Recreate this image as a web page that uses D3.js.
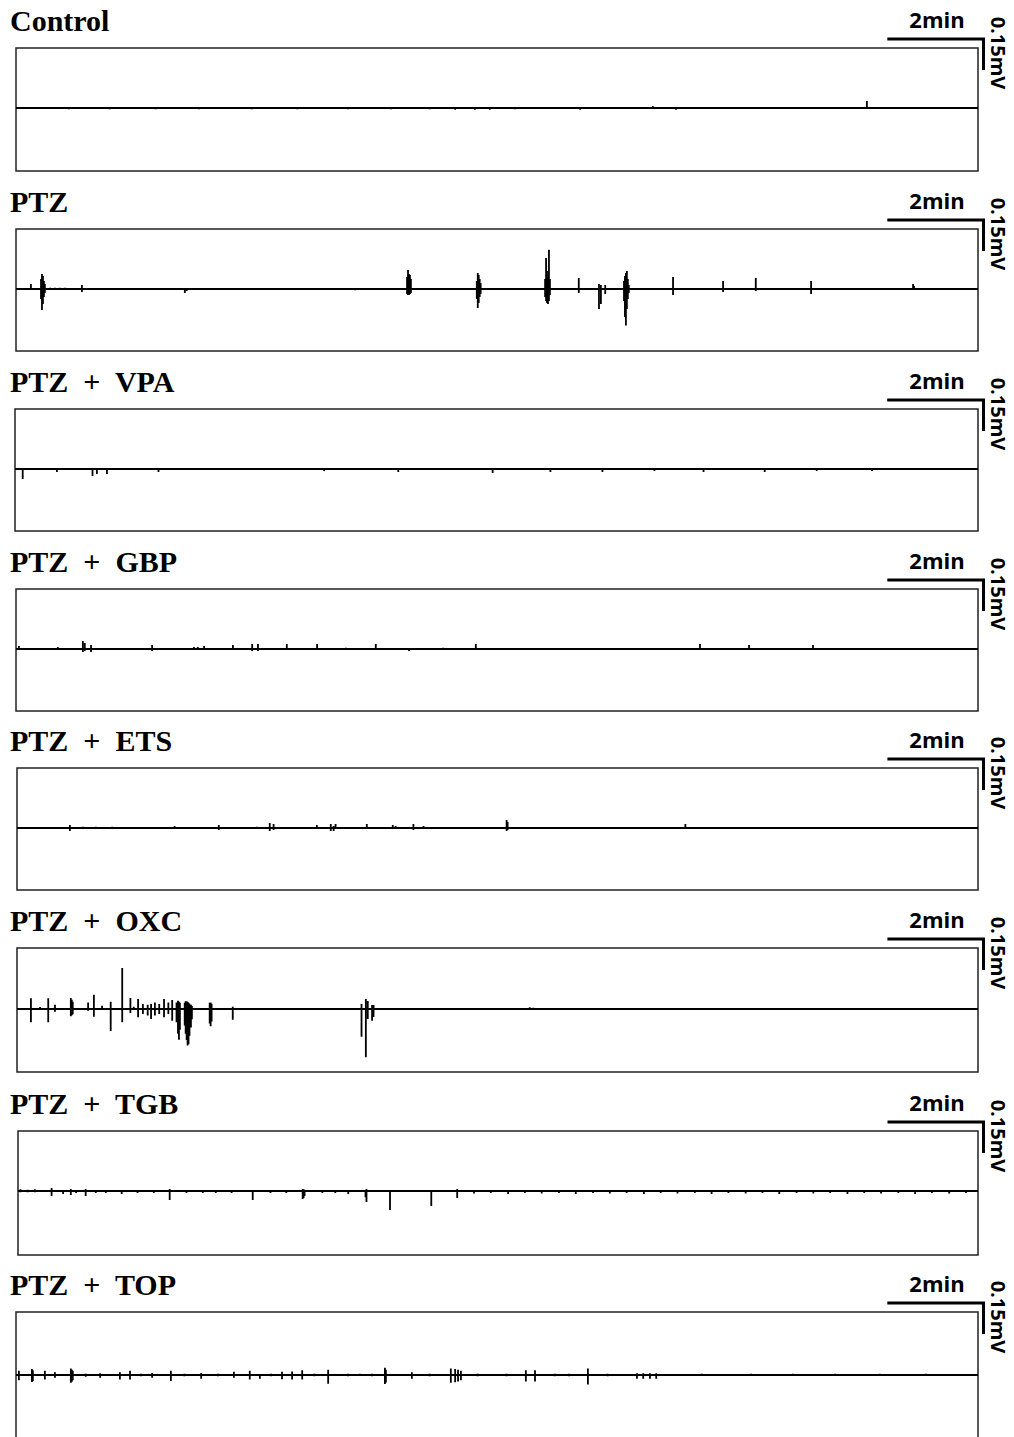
<!DOCTYPE html>
<html>
<head>
<meta charset="utf-8">
<script src="https://cdn.jsdelivr.net/npm/d3@7"></script>
<style>
  html, body { margin: 0; padding: 0; background: #fff; }
  svg { display: block; }
  .title { font-family: "Liberation Serif", "Times New Roman", serif; font-weight: bold; font-size: 30px; white-space: pre; }
  .scale { font-family: "Open Sans", "DejaVu Sans", sans-serif; font-weight: bold; font-size: 22px; }
  .scalev { font-family: "Open Sans", "DejaVu Sans", sans-serif; font-weight: bold; font-size: 20px; }
</style>
</head>
<body>
<script>
// ---------------- DATA ----------------
// Group titles
const titles = ["Control", "PTZ", "PTZ  +  VPA", "PTZ  +  GBP", "PTZ  +  ETS", "PTZ  +  OXC", "PTZ  +  TGB", "PTZ  +  TOP"];

// Recording length (min) and scale-bar values
const recordMinutes = 20;
const scaleBarMinutes = 2;
const scaleBarMV = 0.15;
const scaleTimeLabel = "2min";
const scaleVoltLabel = "0.15mV";

// Spike events: [time (min), upward amplitude (mV), downward amplitude (mV)]
const controlSpikes = [
  [1.10,0,0.006],[1.95,0,0.006],[2.90,0,0.006],[3.80,0,0.006],[4.90,0,0.006],[5.85,0,0.006],
  [6.90,0,0.006],[7.80,0,0.006],[8.60,0,0.006],[9.13,0,0.008],[9.54,0,0.008],[9.85,0,0.008],
  [10.37,0,0.006],[11.73,0,0.008],[13.24,0.010,0],[13.72,0,0.008],[17.69,0.034,0]
];

const ptzSpikes = [
  [0.31,0.024,0.005],
  [0.52,0.048,0.048],[0.54,0.073,0.102],[0.56,0.063,0.073],[0.58,0.039,0.039],[0.60,0.024,0.019],
  [0.71,0.006,0],[0.81,0.006,0],[0.91,0.006,0],[1.02,0.006,0],
  [1.37,0.019,0.015],
  [3.51,0,0.019],[3.55,0,0.010],
  [4.72,0.005,0],[7.05,0,0.006],
  [8.13,0.058,0.024],[8.15,0.092,0.029],[8.17,0.073,0.029],[8.19,0.068,0.024],[8.21,0.048,0.019],
  [9.58,0.039,0.048],[9.60,0.077,0.092],[9.62,0.068,0.068],[9.64,0.048,0.039],[9.66,0.029,0.024],
  [11.00,0.048,0.039],[11.02,0.150,0.058],[11.04,0.087,0.068],[11.06,0.058,0.073],[11.08,0.190,0.058],[11.10,0.048,0.029],
  [11.56,0.005,0],[11.70,0.053,0.019],
  [12.12,0.024,0.097],[12.16,0.019,0.073],[12.25,0.019,0.024],
  [12.64,0.039,0.058],[12.66,0.063,0.136],[12.68,0.077,0.176],[12.70,0.087,0.097],[12.72,0.048,0.048],[12.74,0.019,0.019],
  [13.66,0.058,0.029],[14.10,0.005,0],[14.70,0.039,0.015],[15.38,0.053,0.010],[16.53,0.039,0.024],
  [17.86,0.005,0],[18.65,0.024,0.005],[18.67,0.015,0]
];

const vpaSpikes = [
  [0.16,0,0.048],[0.87,0,0.015],[1.61,0,0.034],[1.70,0,0.024],[1.91,0,0.024],[2.30,0.005,0],
  [2.98,0,0.015],[4.00,0.005,0],[5.20,0.005,0],[6.42,0,0.010],[7.96,0,0.015],[8.60,0.005,0],
  [9.92,0,0.019],[10.50,0.005,0],[11.12,0,0.015],[12.20,0,0.015],[12.80,0.005,0],[13.28,0,0.010],
  [14.30,0,0.015],[15.00,0.005,0],[15.57,0,0.015],[16.65,0,0.010],[17.20,0.005,0],[17.80,0,0.010],[18.80,0.005,0]
];

const gbpSpikes = [
  [0.06,0.015,0],[0.87,0.010,0],[1.39,0.039,0.015],[1.43,0.029,0.010],[1.56,0.019,0.015],
  [2.83,0.019,0.010],[3.70,0.010,0],[3.78,0.010,0],[3.91,0.015,0.005],[4.51,0.019,0],
  [4.91,0.024,0.010],[5.03,0.024,0.010],[5.63,0.024,0],[6.26,0.024,0],[6.86,0.006,0],
  [7.48,0.024,0],[8.17,0,0.010],[8.30,0.005,0],[8.88,0.006,0],[9.56,0.024,0],
  [14.22,0.024,0],[15.24,0.019,0],[16.57,0.019,0]
];

const etsSpikes = [
  [1.10,0.015,0.015],[1.37,0.006,0],[1.64,0.006,0],[1.98,0.006,0],[3.28,0.010,0],
  [4.20,0.015,0.010],[4.99,0.006,0],[5.26,0.024,0.015],[5.34,0.019,0.010],[6.24,0.015,0],
  [6.53,0.019,0.015],[6.59,0.010,0.015],[6.63,0.019,0],[7.28,0.019,0.005],[7.82,0.015,0],
  [7.88,0.010,0.005],[8.25,0.019,0.010],[8.46,0.010,0],[10.19,0.039,0.015],[10.21,0.029,0.010],
  [10.29,0.005,0],[10.40,0.005,0],[13.91,0.019,0],[16.65,0.005,0]
];

const oxcSpikes = [
  [0.29,0.052,0.064],[0.48,0.010,0],[0.65,0.052,0.064],[0.79,0.021,0.013],[0.98,0.005,0],
  [1.12,0.053,0.035],[1.14,0.045,0.030],[1.16,0.035,0.025],[1.37,0.005,0],
  [1.48,0.032,0.008],[1.60,0.069,0.037],[1.77,0.016,0.005],[1.95,0.035,0.106],
  [2.19,0.198,0.064],[2.36,0.053,0.019],[2.43,0.011,0],[2.52,0.048,0.040],[2.62,0.024,0.024],
  [2.72,0.021,0.032],[2.79,0.024,0.048],[2.87,0.032,0.032],[2.96,0.024,0.024],[3.06,0.048,0.040],
  [3.15,0.032,0.024],[3.23,0.044,0.057],[3.32,0.032,0.064],
  [3.35,0.040,0.120],[3.37,0.035,0.149],[3.39,0.030,0.100],
  [3.49,0.030,0.080],[3.51,0.037,0.120],[3.53,0.037,0.150],[3.55,0.034,0.176],[3.57,0.030,0.170],
  [3.59,0.025,0.130],[3.62,0.020,0.090],[3.64,0.015,0.050],
  [4.01,0.030,0.070],[4.03,0.032,0.084],[4.05,0.025,0.060],[4.49,0.011,0.052],
  [5.22,0.005,0],[5.90,0.005,0],
  [7.17,0.024,0.134],[7.26,0.048,0.234],[7.30,0.039,0.048],[7.39,0.019,0.057],[7.42,0.019,0.039],
  [7.58,0.005,0],[10.67,0.008,0],[10.75,0.006,0]
];

const tgbSpikes = [
  [0.05,0.008,0.006],[0.20,0.006,0.006],[0.35,0.008,0.006],
  [0.70,0.015,0.024],[0.94,0,0.015],[1.10,0.010,0.019],[1.21,0,0.010],[1.41,0.010,0.024],
  [1.62,0,0.010],[1.83,0,0.010],[2.16,0,0.015],[2.49,0,0.010],[2.83,0,0.010],
  [3.16,0.010,0.044],[3.51,0,0.010],[3.85,0,0.010],[4.12,0,0.010],[4.45,0,0.010],
  [4.89,0,0.044],[5.26,0,0.010],[5.59,0,0.010],
  [5.93,0.010,0.039],[5.95,0.008,0.034],[5.97,0.005,0.024],
  [6.34,0,0.010],[6.61,0,0.010],[6.88,0,0.015],[7.24,0,0.030],[7.26,0.010,0.053],
  [7.75,0,0.092],[8.61,0,0.073],[9.15,0.010,0.034],
  [9.50,0,0.012],[9.85,0,0.010],[10.21,0,0.014],[10.56,0,0.010],[10.91,0,0.012],[11.27,0,0.010],
  [11.62,0,0.014],[11.98,0,0.010],[12.33,0,0.012],[12.68,0,0.010],[13.04,0,0.014],[13.39,0,0.010],
  [13.74,0,0.012],[14.10,0,0.010],[14.45,0,0.014],[14.80,0,0.010],[15.16,0,0.012],[15.51,0,0.010],
  [15.86,0,0.014],[16.22,0,0.010],[16.57,0,0.012],[16.92,0,0.010],[17.28,0,0.014],[17.63,0,0.010],
  [17.98,0,0.012],[18.34,0,0.010],[18.69,0,0.014],[19.04,0,0.010],[19.40,0,0.012],[19.75,0,0.010]
];

const topSpikes = [
  [0.06,0.020,0.025],[0.33,0.029,0.034],[0.35,0.023,0.029],[0.60,0.020,0.022],[0.81,0.013,0.013],
  [1.14,0.031,0.038],[1.16,0.026,0.033],[1.18,0.020,0.026],[1.45,0.006,0.008],[1.75,0.008,0.013],
  [2.16,0.013,0.022],[2.37,0.020,0.022],[2.60,0.006,0.006],[2.83,0.010,0.013],[3.22,0.020,0.029],
  [3.50,0.006,0.006],[3.85,0.010,0.018],[4.20,0.006,0.006],[4.53,0.016,0.013],[4.86,0.020,0.022],
  [5.07,0,0.018],[5.30,0.006,0.006],[5.53,0.016,0.021],[5.74,0.017,0.022],[5.95,0.023,0.022],
  [6.20,0.006,0.006],[6.49,0.025,0.042],[6.90,0.006,0.006],[7.15,0.006,0],[7.40,0.006,0.006],
  [7.67,0.035,0.044],[7.69,0.026,0.036],[8.23,0.013,0.018],[8.60,0.006,0.006],
  [9.04,0.031,0.038],[9.13,0.029,0.035],[9.19,0.026,0.031],[9.25,0.020,0.026],[9.60,0.006,0.006],
  [10.20,0.006,0.006],[10.60,0.023,0.031],[10.79,0.023,0.031],[11.20,0.006,0.006],[11.50,0.006,0.006],
  [11.89,0.031,0.046],[12.30,0.006,0.006],[12.91,0.008,0.018],[13.04,0.008,0.018],[13.18,0.008,0.018],
  [13.31,0.008,0.018],[14.26,0.006,0],[15.28,0.006,0],[16.15,0.006,0],[17.03,0.006,0],[17.96,0.006,0],[18.92,0.006,0]
];

const traces = [controlSpikes, ptzSpikes, vpaSpikes, gbpSpikes, etsSpikes, oxcSpikes, tgbSpikes, topSpikes];

// ---------------- LAYOUT (positions / sizes) ----------------
const W = 1014, H = 1437;
const boxTop    = [48, 229, 409, 589, 768, 948, 1131, 1312];
const boxHeight = [123, 122, 122, 122, 122, 124, 124, 128];
const baseOff   = [60, 60, 60, 60, 60, 61, 60, 63];
const boxLeft   = [16, 16, 15, 16, 17, 17, 18, 16];
const boxRight  = 978;
const pxPerMV   = 206.7;
const scaleBarRight = 983.5;

const svg = d3.select("body").append("svg")
  .attr("width", W).attr("height", H)
  .attr("viewBox", `0 0 ${W} ${H}`);
svg.append("rect").attr("width", W).attr("height", H).attr("fill", "#fff");

titles.forEach((title, i) => {
  const g = svg.append("g");
  const top = boxTop[i];
  const base = top + baseOff[i];
  const x = d3.scaleLinear().domain([0, recordMinutes]).range([boxLeft[i], boxRight]);
  const y = d3.scaleLinear().domain([-1, 1]).range([base + pxPerMV, base - pxPerMV]);

  // title
  g.append("text").attr("class", "title")
    .attr("x", 10).attr("y", top - 17)
    .text(title);

  // frame
  g.append("rect")
    .attr("x", boxLeft[i]).attr("y", top)
    .attr("width", boxRight - boxLeft[i]).attr("height", boxHeight[i])
    .attr("fill", "none").attr("stroke", "#222").attr("stroke-width", 1.5);

  // trace: baseline with spikes
  const pts = [[0, 0]];
  traces[i].slice().sort((a, b) => a[0] - b[0]).forEach(([t, up, dn]) => {
    pts.push([t, 0], [t, up], [t, -dn], [t, 0]);
  });
  pts.push([recordMinutes, 0]);
  const line = d3.line().x(d => x(d[0])).y(d => y(d[1]));
  g.append("path")
    .attr("d", line(pts))
    .attr("fill", "none").attr("stroke", "#000")
    .attr("stroke-width", 1.8).attr("stroke-linejoin", "bevel");

  // scale bar
  const barY = top - 9;
  const barLen = x(scaleBarMinutes) - x(0);
  const vLen = y(0) - y(scaleBarMV);
  const sb = d3.path();
  sb.moveTo(scaleBarRight - barLen, barY);
  sb.lineTo(scaleBarRight, barY);
  sb.lineTo(scaleBarRight, barY + vLen);
  g.append("path").attr("d", sb.toString())
    .attr("fill", "none").attr("stroke", "#000").attr("stroke-width", 3)
    .attr("stroke-linejoin", "miter");

  g.append("text").attr("class", "scale")
    .attr("x", 937).attr("y", top - 20)
    .attr("text-anchor", "middle")
    .text(scaleTimeLabel);

  g.append("text").attr("class", "scalev")
    .attr("transform", `translate(991,${top + 5}) rotate(90)`)
    .attr("text-anchor", "middle")
    .text(scaleVoltLabel);
});
</script>
</body>
</html>
